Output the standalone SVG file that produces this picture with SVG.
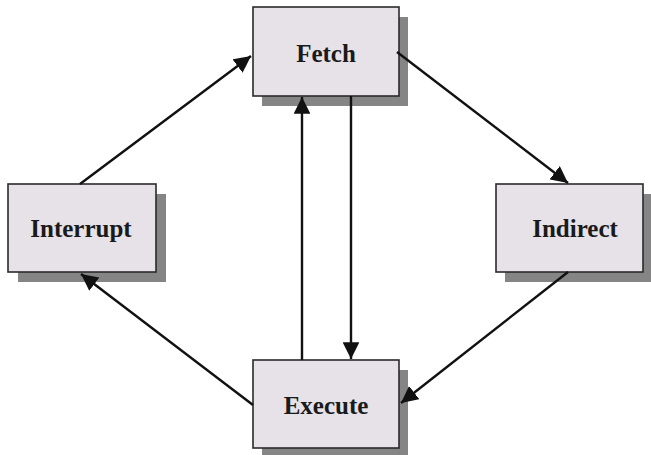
<svg xmlns="http://www.w3.org/2000/svg" width="651" height="455" viewBox="0 0 651 455">
  <style>
    .shadow { fill: #858585; }
    .box { fill: #e6e2e8; stroke: #2a2a2a; stroke-width: 1.6; }
    .label { font-family: "Liberation Serif", "Times New Roman", serif; font-weight: bold; font-size: 25px; fill: #1a1a1a; text-anchor: middle; }
    .edge { stroke: #111; stroke-width: 2.4; fill: none; marker-end: url(#arrow); }
  </style>
  <defs>
    <marker id="arrow" viewBox="0 0 10 10" refX="10" refY="5" markerWidth="7" markerHeight="7" orient="auto" markerUnits="strokeWidth">
      <path d="M0,0 L10,5 L0,10 Z" fill="#111"/>
    </marker>
  </defs>
  <rect width="651" height="455" fill="#ffffff"/>

  <g id="fetch">
    <rect class="shadow" x="262" y="17" width="146" height="89"/>
    <rect class="box" x="253" y="7" width="146" height="89"/>
    <text class="label" x="326" y="62">Fetch</text>
  </g>
  <g id="interrupt">
    <rect class="shadow" x="18" y="194" width="148" height="88"/>
    <rect class="box" x="8" y="184" width="148" height="88"/>
    <text class="label" x="81" y="237">Interrupt</text>
  </g>
  <g id="indirect">
    <rect class="shadow" x="505" y="194" width="147" height="88"/>
    <rect class="box" x="496" y="184" width="147" height="88"/>
    <text class="label" x="575" y="237">Indirect</text>
  </g>
  <g id="execute">
    <rect class="shadow" x="262" y="370" width="146" height="88"/>
    <rect class="box" x="253" y="360" width="146" height="88"/>
    <text class="label" x="326" y="414">Execute</text>
  </g>

  <!-- connectors sit on top of the box shadows -->
  <g id="connectors">
    <line class="edge" x1="80" y1="184" x2="251" y2="56"/>
    <line class="edge" x1="397" y1="52" x2="568" y2="183"/>
    <line class="edge" x1="568" y1="272" x2="401" y2="403"/>
    <line class="edge" x1="253" y1="405" x2="81" y2="274"/>
    <line class="edge" x1="302" y1="360" x2="302" y2="97"/>
    <line class="edge" x1="351" y1="96" x2="351" y2="359"/>
  </g>
</svg>
